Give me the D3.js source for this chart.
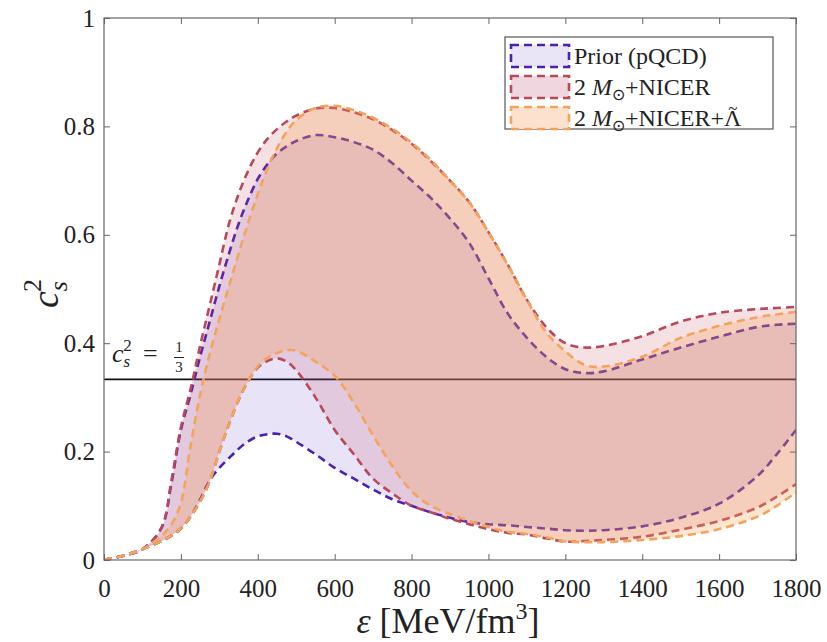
<!DOCTYPE html>
<html><head><meta charset="utf-8">
<script src="https://cdn.jsdelivr.net/npm/d3@7"></script>
<style>
body{margin:0;background:#fff}
svg{display:block}
text{font-family:"Liberation Serif","Times New Roman",serif;fill:#222}
</style>
</head><body><svg id="c" width="827" height="642"></svg>
<script>
// energy density grid (MeV/fm^3)
const eps = [0,50,100,150,175,200,225,250,275,300,325,350,375,400,425,450,475,500,550,600,650,700,750,800,850,900,950,1000,1050,1100,1150,1200,1250,1300,1400,1500,1600,1700,1750,1800];
// Prior (pQCD)
const priorUpper = [0,0.008,0.02,0.06,0.14,0.24,0.305,0.375,0.44,0.505,0.565,0.62,0.665,0.703,0.73,0.75,0.763,0.773,0.784,0.78,0.771,0.757,0.732,0.70,0.668,0.63,0.585,0.52,0.455,0.41,0.375,0.352,0.345,0.348,0.37,0.392,0.412,0.43,0.434,0.436];
const priorLower = [0,0.008,0.02,0.035,0.045,0.058,0.08,0.112,0.147,0.17,0.188,0.205,0.219,0.228,0.232,0.233,0.228,0.218,0.195,0.17,0.15,0.13,0.112,0.10,0.088,0.078,0.07,0.066,0.064,0.061,0.058,0.055,0.054,0.055,0.062,0.078,0.104,0.155,0.195,0.24];
// 2 Msun + NICER
const nicerUpper = [0,0.008,0.02,0.06,0.145,0.245,0.315,0.395,0.47,0.545,0.62,0.675,0.718,0.752,0.777,0.795,0.809,0.82,0.833,0.834,0.826,0.813,0.793,0.768,0.736,0.70,0.66,0.605,0.545,0.48,0.43,0.40,0.392,0.395,0.413,0.44,0.456,0.463,0.465,0.467];
const nicerLower = [0,0.008,0.02,0.035,0.045,0.058,0.08,0.108,0.145,0.20,0.25,0.295,0.33,0.355,0.367,0.372,0.366,0.35,0.30,0.24,0.195,0.15,0.123,0.10,0.088,0.076,0.066,0.057,0.05,0.047,0.04,0.034,0.035,0.037,0.043,0.056,0.072,0.097,0.117,0.14];
// 2 Msun + NICER + Lambda
const lamUpper = [0,0.008,0.02,0.045,0.065,0.105,0.21,0.305,0.38,0.445,0.505,0.565,0.622,0.675,0.722,0.76,0.79,0.812,0.834,0.838,0.83,0.816,0.796,0.77,0.738,0.70,0.66,0.605,0.545,0.48,0.42,0.385,0.36,0.357,0.375,0.41,0.432,0.448,0.453,0.458];
const lamLower = [0,0.008,0.02,0.035,0.045,0.058,0.08,0.108,0.145,0.20,0.25,0.295,0.33,0.357,0.373,0.382,0.387,0.386,0.366,0.34,0.29,0.23,0.173,0.127,0.10,0.085,0.072,0.061,0.052,0.048,0.042,0.034,0.033,0.033,0.037,0.044,0.057,0.08,0.10,0.125];

const xTicks = [0,200,400,600,800,1000,1200,1400,1600,1800];
const yTicks = [0,0.2,0.4,0.6,0.8,1];
const yTickLabels = ["0","0.2","0.4","0.6","0.8","1"];
const legendLabels = ["Prior (pQCD)","2 M⊙+NICER","2 M⊙+NICER+Λ"];
const conformal = 1/3;

const svg = d3.select("#c");
const L=104, R=796, T=18, B=560;
const x = d3.scaleLinear().domain([0,1800]).range([L,R]);
const y = d3.scaleLinear().domain([0,1]).range([B,T]);

svg.append("defs").append("clipPath").attr("id","clip")
  .append("rect").attr("x",L).attr("y",T).attr("width",R-L).attr("height",B-T);
const plot = svg.append("g").attr("clip-path","url(#clip)");

// conformal limit line (drawn first, under the bands)
plot.append("line").attr("x1",x(0)).attr("x2",x(1800)).attr("y1",y(conformal)).attr("y2",y(conformal))
  .attr("stroke","#111").attr("stroke-width",1.8);

const bands = [
  {lo:priorLower, hi:priorUpper, fill:"rgb(100,60,200)", op:0.14, line:"#4B22B0"},
  {lo:nicerLower, hi:nicerUpper, fill:"rgb(195,70,90)", op:0.16, line:"#B8485C"},
  {lo:lamLower, hi:lamUpper, fill:"rgb(250,160,80)", op:0.27, line:"#F2A35E"}
];
const curve = d3.curveCatmullRom.alpha(0.5);
bands.forEach(b=>{
  const area = d3.area().x((d,i)=>x(eps[i])).y0((d,i)=>y(b.lo[i])).y1((d,i)=>y(b.hi[i])).curve(curve);
  plot.append("path").attr("d",area(eps)).attr("fill",b.fill).attr("fill-opacity",b.op);
  [b.lo,b.hi].forEach(arr=>{
    const line = d3.line().x((d,i)=>x(eps[i])).y((d,i)=>y(arr[i])).curve(curve);
    plot.append("path").attr("d",line(eps)).attr("fill","none").attr("stroke",b.line)
      .attr("stroke-width",2.6).attr("stroke-dasharray","8,5");
  });
});

// axes
const axisColor="#666";
const gx = svg.append("g").attr("transform",`translate(0,${B})`)
  .call(d3.axisBottom(x).tickValues(xTicks).tickSizeInner(-6).tickSizeOuter(0).tickPadding(19).tickFormat(d3.format("d")));
const gxt = svg.append("g").attr("transform",`translate(0,${T})`)
  .call(d3.axisTop(x).tickValues(xTicks).tickSizeInner(-6).tickSizeOuter(0).tickFormat(""));
const gy = svg.append("g").attr("transform",`translate(${L},0)`)
  .call(d3.axisLeft(y).tickValues(yTicks).tickSizeInner(-6).tickSizeOuter(0).tickPadding(9).tickFormat((d,i)=>yTickLabels[i]));
const gyr = svg.append("g").attr("transform",`translate(${R},0)`)
  .call(d3.axisRight(y).tickValues(yTicks).tickSizeInner(-6).tickSizeOuter(0).tickFormat(""));
[gx,gxt,gy,gyr].forEach(g=>{
  g.attr("font-family",null);
  g.select(".domain").remove();
  g.selectAll(".tick line").attr("stroke",axisColor);
  g.selectAll("text").style("font-family","'Liberation Serif', serif").attr("font-size",25).attr("fill","#222");
});
svg.append("rect").attr("x",L).attr("y",T).attr("width",R-L).attr("height",B-T)
  .attr("fill","none").attr("stroke",axisColor).attr("stroke-width",1.2);

// x label
const xl = svg.append("text").attr("x",448).attr("y",633).attr("text-anchor","middle").attr("font-size",36);
xl.append("tspan").attr("font-style","italic").text("ε");
xl.append("tspan").text(" [MeV/fm");
xl.append("tspan").attr("font-size",24).attr("dy",-14).text("3");
xl.append("tspan").attr("dy",14).text("]");

// y label
const yl = svg.append("text").attr("transform","translate(58,308) rotate(-90)").attr("font-size",38);
yl.append("tspan").attr("font-style","italic").text("c");
yl.append("tspan").attr("font-style","italic").attr("font-size",26).attr("dy",9).text("s");
yl.append("tspan").attr("font-size",26).attr("dx",-11).attr("dy",-26).text("2");

// conformal annotation
const an = svg.append("g");
const at = an.append("text").attr("x",112).attr("y",362).attr("font-size",26);
at.append("tspan").attr("font-style","italic").text("c");
at.append("tspan").attr("font-style","italic").attr("font-size",17).attr("dy",5).text("s");
at.append("tspan").attr("font-size",17).attr("dx",-7).attr("dy",-16).text("2");
an.append("text").attr("x",143).attr("y",362).attr("font-size",26).text("=");
an.append("text").attr("x",179).attr("y",352).attr("text-anchor","middle").attr("font-size",15).text("1");
an.append("line").attr("x1",174).attr("x2",184).attr("y1",357.5).attr("y2",357.5).attr("stroke","#222").attr("stroke-width",1);
an.append("text").attr("x",179).attr("y",372).attr("text-anchor","middle").attr("font-size",15).text("3");

// legend
const lg = svg.append("g");
lg.append("rect").attr("x",505).attr("y",37).attr("width",268).attr("height",92)
  .attr("fill","#fff").attr("stroke","#555").attr("stroke-width",1.2);
const patchFill = ["rgb(234,229,246)","rgb(240,214,222)","rgb(252,226,206)"];
legendLabels.forEach((lab,i)=>{
  const cy = 56 + i*31;
  lg.append("rect").attr("x",511).attr("y",cy-11).attr("width",58).attr("height",22)
    .attr("fill",patchFill[i]).attr("stroke",bands[i].line).attr("stroke-width",2.6).attr("stroke-dasharray","8,5");
  const t = lg.append("text").attr("x",574).attr("y",cy+8).attr("font-size",24);
  if(i===0){ t.text(lab); }
  else {
    t.append("tspan").text("2 ");
    t.append("tspan").attr("font-style","italic").text("M");
    t.append("tspan").attr("font-size",16).attr("dy",5).text("⊙");
    t.append("tspan").attr("dy",-5).text(i===1?"+NICER":"+NICER+Λ");
    if(i===2){
      const n = t.node();
      const k = n.getNumberOfChars()-1;
      const ext = n.getExtentOfChar(k);
      lg.append("text").attr("x",ext.x+ext.width/2).attr("y",cy-4).attr("text-anchor","middle")
        .attr("font-size",17).text("~");
    }
  }
});
</script></body></html>
